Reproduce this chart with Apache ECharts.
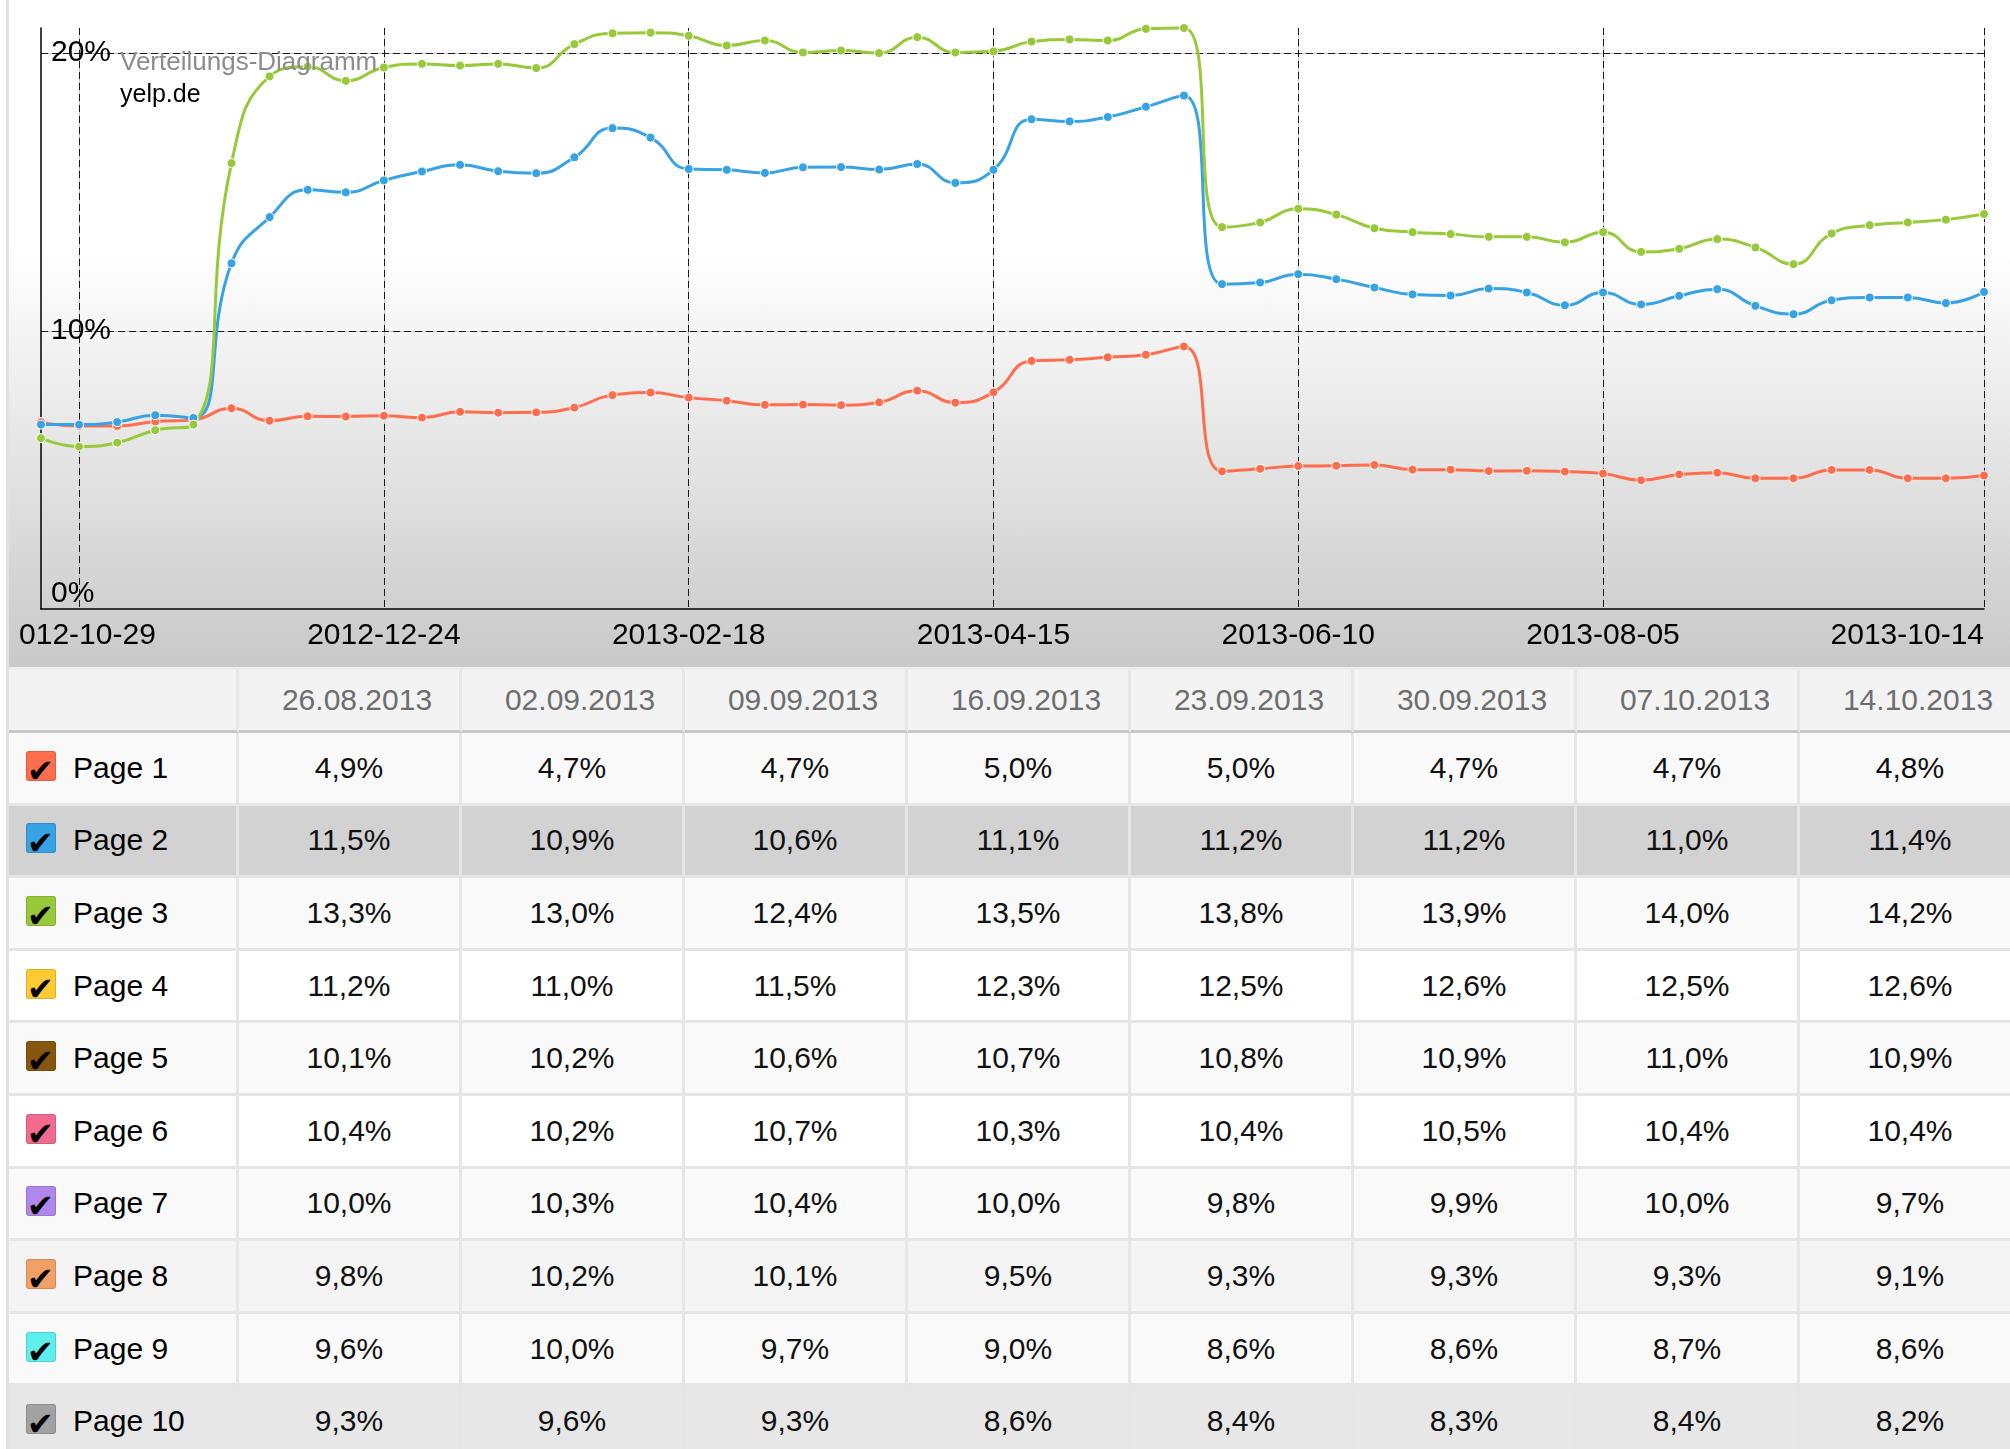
<!DOCTYPE html>
<html>
<head>
<meta charset="utf-8">
<script src="https://cdn.jsdelivr.net/npm/echarts@6/dist/echarts.min.js"></script>
<style>
  html, body { margin: 0; padding: 0; background: #fff; }
  body { width: 2010px; height: 1449px; overflow: hidden; position: relative; font-family: 'Liberation Sans', Arial, sans-serif; }
  #frame { position: absolute; left: 6px; top: 0; width: 2100px; height: 1449px; border-left: 3px solid #e2e2e2; }
  #chartBox { position: relative; height: 667px; overflow: hidden;
    background: linear-gradient(to bottom, #fff 0px, #fff 250px, #c9c9c9 667px); }
  #chart { position: absolute; left: 9px; top: 0; width: 1992px; height: 667px; }
  #dataTable { border-collapse: separate; border-spacing: 0; table-layout: fixed; border-top: 3px solid #ececec; }
  #dataTable td { box-sizing: border-box; border-right: 3px solid #e6e6e6; border-bottom: 3px solid #e6e6e6;
    font-size: 30px; color: #111; text-align: center; padding: 0; white-space: nowrap; }
  #dataTable tr.head td { height: 63px; background: #f3f3f3; color: #6e6e6e; border-bottom-color: #c8c8c8; padding-left: 16px; }
  #dataTable tr.row td { height: 72.6px; }
  #dataTable td.name { position: relative; text-align: left; padding-left: 64px; color: #000; }
  .cb { position: absolute; left: 17px; top: 50%; margin-top: -17px; width: 30px; height: 30px; border-radius: 3px;
    box-shadow: inset 0 0 0 1px rgba(0,0,0,0.13); }
  .tick { position: absolute; left: 1px; top: 4px; font: 32px/1 'DejaVu Sans', sans-serif; color: #000; }
</style>
</head>
<body>
<div id="frame">
  <div id="chartBox"><div id="chart"></div></div>
  <table id="dataTable"></table>
</div>
<script>
// Wochen (x-Achse)
const weeks = [
  '2012-10-22', '2012-10-29', '2012-11-05', '2012-11-12', '2012-11-19', '2012-11-26', '2012-12-03', '2012-12-10',
  '2012-12-17', '2012-12-24', '2012-12-31', '2013-01-07', '2013-01-14', '2013-01-21', '2013-01-28', '2013-02-04',
  '2013-02-11', '2013-02-18', '2013-02-25', '2013-03-04', '2013-03-11', '2013-03-18', '2013-03-25', '2013-04-01',
  '2013-04-08', '2013-04-15', '2013-04-22', '2013-04-29', '2013-05-06', '2013-05-13', '2013-05-20', '2013-05-27',
  '2013-06-03', '2013-06-10', '2013-06-17', '2013-06-24', '2013-07-01', '2013-07-08', '2013-07-15', '2013-07-22',
  '2013-07-29', '2013-08-05', '2013-08-12', '2013-08-19', '2013-08-26', '2013-09-02', '2013-09-09', '2013-09-16',
  '2013-09-23', '2013-09-30', '2013-10-07', '2013-10-14'
];
// beschriftete Wochen
const labeledWeeks = ['2012-10-29', '2012-12-24', '2013-02-18', '2013-04-15', '2013-06-10', '2013-08-05', '2013-10-14'];

// Anteile in %
const page1Line = [
  6.72, 6.58, 6.58, 6.74, 6.80, 7.22, 6.77, 6.93, 6.92, 6.95, 6.88, 7.09, 7.06, 7.07, 7.24, 7.69,
  7.78, 7.60, 7.49, 7.34, 7.35, 7.33, 7.43, 7.85, 7.42, 7.79, 8.92, 8.96, 9.05, 9.14, 9.44, 4.95,
  5.04, 5.14, 5.15, 5.18, 5.01, 5.01, 4.96, 4.97, 4.94, 4.87, 4.63, 4.84, 4.9, 4.7, 4.7, 5.0,
  5.0, 4.7, 4.7, 4.8
];
const page2Line = [
  6.63, 6.63, 6.72, 6.97, 6.87, 12.43, 14.09, 15.07, 14.98, 15.41, 15.73, 15.97, 15.74, 15.67, 16.24, 17.29,
  16.95, 15.82, 15.79, 15.68, 15.88, 15.89, 15.80, 16.00, 15.32, 15.79, 17.61, 17.53, 17.69, 18.06, 18.46, 11.68,
  11.74, 12.04, 11.86, 11.56, 11.31, 11.27, 11.52, 11.38, 10.92, 11.38, 10.95, 11.26, 11.5, 10.9, 10.6, 11.1,
  11.2, 11.2, 11.0, 11.4
];
const page3Line = [
  6.14, 5.84, 5.98, 6.43, 6.63, 16.03, 19.15, 19.50, 18.99, 19.47, 19.60, 19.54, 19.60, 19.45, 20.31, 20.70,
  20.72, 20.61, 20.26, 20.44, 20.01, 20.08, 19.99, 20.56, 20.01, 20.05, 20.40, 20.48, 20.44, 20.86, 20.89, 13.73,
  13.90, 14.39, 14.18, 13.69, 13.55, 13.48, 13.38, 13.38, 13.18, 13.55, 12.84, 12.95, 13.3, 13.0, 12.4, 13.5,
  13.8, 13.9, 14.0, 14.2
];

// Tabelle
const tableDates = ['26.08.2013', '02.09.2013', '09.09.2013', '16.09.2013', '23.09.2013', '30.09.2013', '07.10.2013', '14.10.2013'];
const pageNames = ['Page 1', 'Page 2', 'Page 3', 'Page 4', 'Page 5', 'Page 6', 'Page 7', 'Page 8', 'Page 9', 'Page 10'];
const page4Values = [11.2, 11.0, 11.5, 12.3, 12.5, 12.6, 12.5, 12.6];
const page5Values = [10.1, 10.2, 10.6, 10.7, 10.8, 10.9, 11.0, 10.9];
const page6Values = [10.4, 10.2, 10.7, 10.3, 10.4, 10.5, 10.4, 10.4];
const page7Values = [10.0, 10.3, 10.4, 10.0, 9.8, 9.9, 10.0, 9.7];
const page8Values = [9.8, 10.2, 10.1, 9.5, 9.3, 9.3, 9.3, 9.1];
const page9Values = [9.6, 10.0, 9.7, 9.0, 8.6, 8.6, 8.7, 8.6];
const page10Values = [9.3, 9.6, 9.3, 8.6, 8.4, 8.3, 8.4, 8.2];

const pageColors = ['#ff6d4d', '#37a2e4', '#97c93a', '#ffca32', '#87570f', '#f26a8f', '#b087ea', '#f2a166', '#5eeeee', '#a2a2a2'];
const rowBg = ['#f9f9f9', '#d2d2d2', '#f9f9f9', '#ffffff', '#f9f9f9', '#ffffff', '#f9f9f9', '#f4f4f4', '#f9f9f9', '#e7e7e7'];
const fontFamily = 'Liberation Sans';

// ---------- Diagramm ----------
const isLabeled = (index, value) => labeledWeeks.includes(value);
const yTop = Math.max(...page1Line, ...page2Line, ...page3Line);

const makeSeries = (name, data, color) => ({
  name, type: 'line', data,
  xAxisIndex: 1, yAxisIndex: 1,
  smooth: true, clip: false,
  symbol: 'circle', symbolSize: 9,
  lineStyle: { width: 3, color },
  itemStyle: { color, borderColor: '#fff', borderWidth: 1 },
  emphasis: { disabled: true }
});

const option = {
  animation: false,
  title: {
    text: 'Verteilungs-Diagramm',
    subtext: 'yelp.de',
    left: 102, top: 50, padding: 0, itemGap: 7,
    textStyle: { fontSize: 26, fontWeight: 'normal', color: '#8c8c8c', fontFamily },
    subtextStyle: { fontSize: 25, color: '#000', fontFamily }
  },
  grid: { left: 23, right: 26, top: 28, bottom: 58, containLabel: false, outerBoundsMode: 'none' },
  xAxis: [
    { // graue Unterlage der Gitterlinien
      type: 'category', data: weeks, boundaryGap: false, position: 'top',
      axisLine: { show: false }, axisTick: { show: false }, axisLabel: { show: false },
      splitLine: { show: true, interval: isLabeled, lineStyle: { color: '#c6c6c6', width: 1 } }
    },
    {
      type: 'category', data: weeks, boundaryGap: false, position: 'bottom',
      axisLine: { lineStyle: { color: '#000', width: 1.5 } },
      axisTick: { show: false },
      axisLabel: { interval: isLabeled, fontSize: 30, color: '#000', margin: 12, alignMaxLabel: 'right', fontFamily },
      splitLine: { show: true, interval: isLabeled, lineStyle: { color: '#1a1a1a', width: 1, type: [7, 4] } }
    }
  ],
  yAxis: [
    {
      type: 'value', min: 0, max: yTop, interval: 10, position: 'right',
      axisLine: { show: false }, axisTick: { show: false }, axisLabel: { show: false },
      splitLine: { show: true, showMinLine: false, showMaxLine: false, lineStyle: { color: '#c6c6c6', width: 1 } }
    },
    {
      type: 'value', min: 0, max: yTop, interval: 10, position: 'left',
      axisLine: { show: true, lineStyle: { color: '#000', width: 1.5 } },
      axisTick: { show: false },
      axisLabel: {
        inside: true, margin: 10, fontSize: 30, color: '#000', fontFamily,
        formatter: '{value}%', showMaxLabel: false, verticalAlignMinLabel: 'bottom'
      },
      splitLine: { show: true, showMinLine: false, showMaxLine: false, lineStyle: { color: '#1a1a1a', width: 1, type: [7, 4] } }
    }
  ],
  series: [
    makeSeries('Page 1', page1Line, pageColors[0]),
    makeSeries('Page 2', page2Line, pageColors[1]),
    makeSeries('Page 3', page3Line, pageColors[2])
  ]
};

const myChart = echarts.init(document.getElementById('chart'));
myChart.setOption(option);

// ---------- Tabelle ----------
const tableValues = [
  page1Line.slice(-8), page2Line.slice(-8), page3Line.slice(-8),
  page4Values, page5Values, page6Values, page7Values, page8Values, page9Values, page10Values
];
const fmt = v => v.toFixed(1).replace('.', ',') + '%';

let html = '<colgroup><col style="width:230px">' + tableDates.map(() => '<col style="width:223px">').join('') + '</colgroup>';
html += '<tr class="head"><td></td>' + tableDates.map(d => '<td>' + d + '</td>').join('') + '</tr>';
pageNames.forEach((name, i) => {
  html += '<tr class="row" style="background:' + rowBg[i] + '">' +
    '<td class="name"><span class="cb" style="background:' + pageColors[i] + '"><span class="tick">✔</span></span>' + name + '</td>' +
    tableValues[i].map(v => '<td>' + fmt(v) + '</td>').join('') + '</tr>';
});
document.getElementById('dataTable').innerHTML = html;
</script>
</body>
</html>
